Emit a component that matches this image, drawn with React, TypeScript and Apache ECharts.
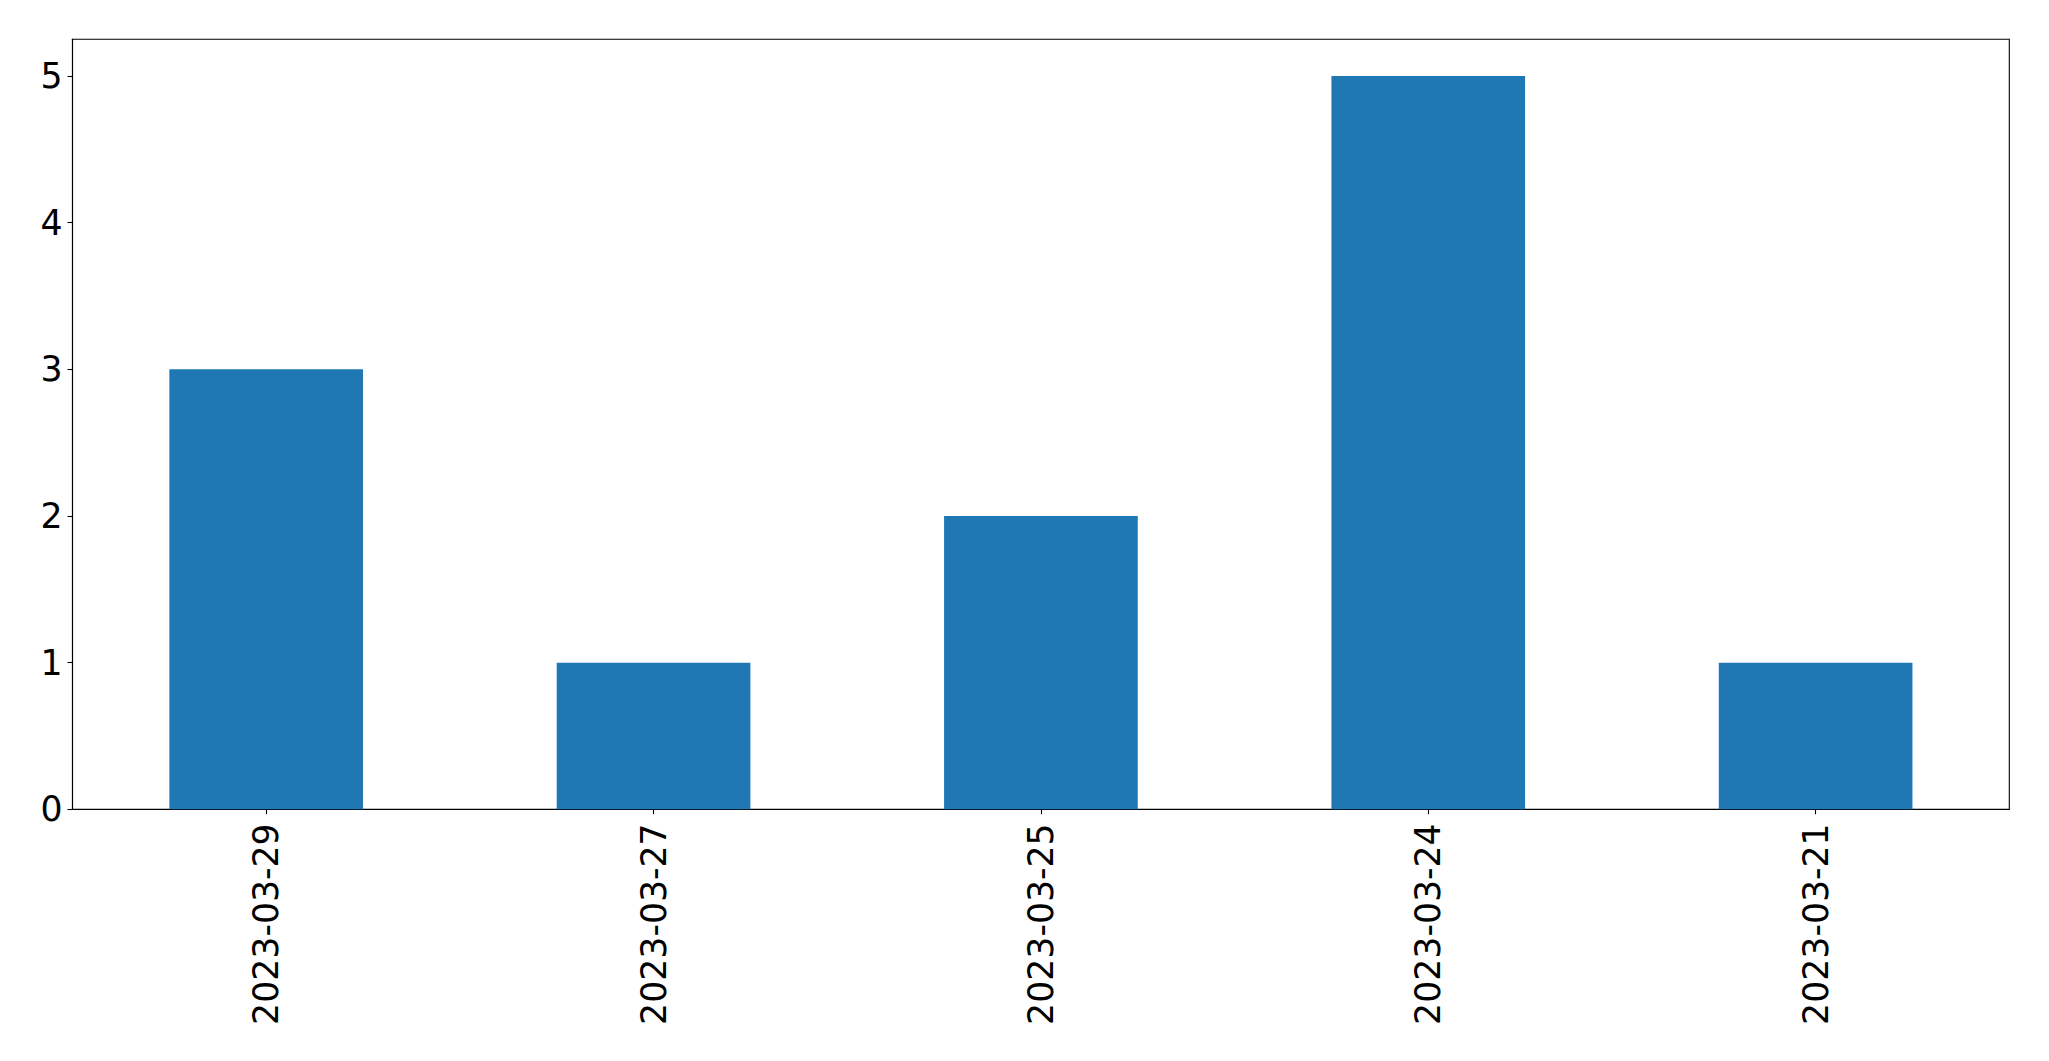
import React, { useEffect, useRef } from "react";
import * as echarts from "echarts";

const categories = ["2023-03-29", "2023-03-27", "2023-03-25", "2023-03-24", "2023-03-21"];
const values = [3, 1, 2, 5, 1];
const yTicks = [0, 1, 2, 3, 4, 5];

export default function App() {
  const ref = useRef<HTMLDivElement>(null);
  useEffect(() => {
    document.body.style.margin = "0";
    if (!ref.current) return;
    const chart = echarts.init(ref.current, undefined, { renderer: "svg" });
    const font = "DejaVu Sans";
    chart.setOption({
      animation: false,
      backgroundColor: "#ffffff",
      grid: {
        left: 72.5,
        right: 39.7,
        top: 39.3,
        bottom: 251.7,
        show: true,
        borderColor: "#000000",
        borderWidth: 1.1,
        containLabel: false,
      },
      xAxis: {
        type: "category",
        data: categories,
        boundaryGap: true,
        axisLine: { show: true, lineStyle: { color: "#000", width: 1.1 } },
        axisTick: { show: true, alignWithLabel: true, length: 5, lineStyle: { color: "#000", width: 1.1 } },
        axisLabel: { rotate: 90, fontSize: 34.7, fontFamily: font, color: "#000", margin: 14 },
        splitLine: { show: false },
      },
      yAxis: {
        type: "value",
        min: 0,
        max: 5.25,
        interval: 1,
        axisLine: { show: true, lineStyle: { color: "#000", width: 1.1 } },
        axisTick: { show: true, length: 5, lineStyle: { color: "#000", width: 1.1 } },
        axisLabel: {
          fontSize: 34.7,
          fontFamily: font,
          color: "#000",
          margin: 10,
          showMaxLabel: false,
          formatter: (v: number) => (yTicks.includes(v) ? String(v) : ""),
        },
        splitLine: { show: false },
      },
      series: [
        {
          type: "bar",
          data: values,
          barWidth: "50%",
          itemStyle: { color: "#1f77b4" },
        },
      ],
    });
    return () => chart.dispose();
  }, []);
  return <div ref={ref} style={{ width: 2049, height: 1061 }} />;
}
